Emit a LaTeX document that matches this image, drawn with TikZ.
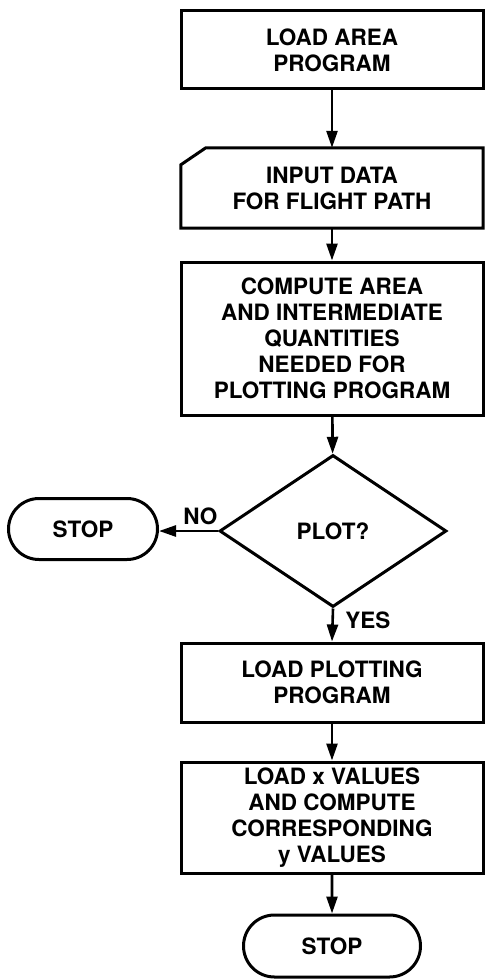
\documentclass[tikz,border=0pt]{standalone}
\usepackage{fontspec}
\setmainfont{TeX Gyre Heros}
\usepackage{tikz}
\usetikzlibrary{arrows.meta,shapes.geometric,shapes.misc}

\begin{document}
\begin{tikzpicture}[x=1pt,y=1pt,
    every node/.style={font=\bfseries\fontsize{22.5}{26}\selectfont,align=center},
    procbox/.style={draw,line width=3pt,minimum width=302pt,inner sep=0pt},
    stopbox/.style={draw,rounded rectangle,line width=3pt,inner sep=0pt},
    flow/.style={line width=2.6pt,-{Triangle[length=17pt,width=11pt]}}]
      \useasboundingbox (0,0) rectangle (489,-979);
      \node[procbox,minimum height=78pt] (area) at (332,-50) {LOAD AREA\\PROGRAM};
      \node[minimum width=302pt,minimum height=80pt,inner sep=0pt] (input) at (332,-188)
      {INPUT DATA\\FOR FLIGHT PATH};
      \draw[line width=3pt] ([xshift=25pt]input.north west) -- (input.north east)
      -- (input.south east) -- (input.south west)
      -- ([yshift=-17pt]input.north west) -- cycle;
      \node[procbox,minimum height=153pt] (compute) at (332,-338.5)
      {COMPUTE AREA\\AND INTERMEDIATE\\QUANTITIES\\NEEDED FOR\\PLOTTING PROGRAM};
      \node[draw,diamond,line width=3pt,inner sep=0pt,aspect=1.5,
      minimum width=227pt,minimum height=152pt] (plot) at (333,-531) {PLOT?};
      \node[stopbox,minimum width=149pt,minimum height=61pt] (stopno) at (83,-529) {STOP};
      \node[procbox,minimum height=79pt] (plotprog) at (332,-682.5) {LOAD PLOTTING\\PROGRAM};
      \node[procbox,minimum height=111pt] (values) at (332,-817.5)
      {LOAD x VALUES\\AND COMPUTE\\CORRESPONDING\\y VALUES};
      \node[stopbox,minimum width=177pt,minimum height=62pt] (stopend) at (332,-946) {STOP};
      % connectors
      \draw[flow] (area) -- (input);
      \draw[flow] (input) -- (compute);
      \draw[flow] (compute) -- (plot);
      \draw[flow] (plot.west) -- (plot.west -| stopno.east)
      node[pos=0.3,above=2pt] (nolbl) {NO};
      \draw[flow] (plot.south) -- (plotprog.north)
      node[pos=0.35,right=8pt] (yeslbl) {YES};
      \draw[flow] (plotprog) -- (values);
      \draw[flow] (values) -- (stopend);
    \end{tikzpicture}
\end{document}
